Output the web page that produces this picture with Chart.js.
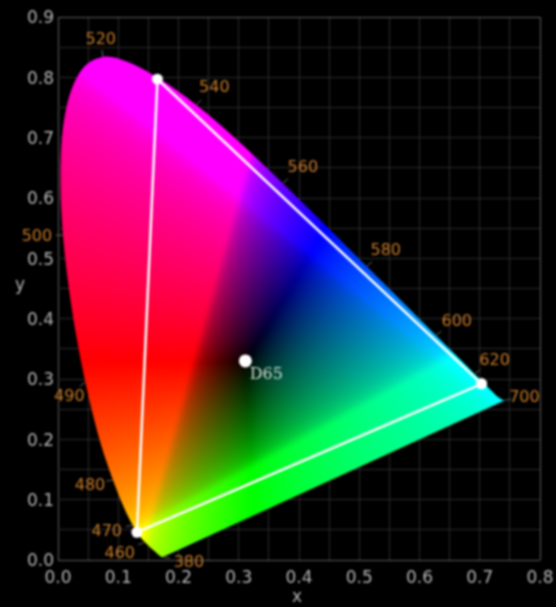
<!DOCTYPE html>
<html>
<head>
<meta charset="utf-8">
<title>CIE xy chromaticity</title>
<script src="https://cdn.jsdelivr.net/npm/chart.js@4"></script>
<style>
  html, body { margin: 0; background: #000; }
  canvas { display: block; filter: blur(1px); }
</style>
</head>
<body>
<canvas id="chart" width="556" height="607"></canvas>
<script>
// spectral locus, wavelength in nm
const wavelengths = [380, 400, 420, 440, 450, 455, 460, 465, 470, 475, 480, 485, 490, 495, 500, 505, 510, 515, 520, 525, 530, 535, 540, 545, 550, 555, 560, 565, 570, 575, 580, 585, 590, 595, 600, 605, 610, 615, 620, 625, 630, 635, 640, 650, 660, 680, 700];
const locusX = [.1741, .1733, .1714, .1644, .1566, .1510, .1440, .1355, .1241, .1096, .0913, .0687, .0454, .0235, .0082, .0039, .0139, .0389, .0743, .1142, .1547, .1929, .2296, .2658, .3016, .3373, .3731, .4087, .4441, .4788, .5125, .5448, .5752, .6029, .6270, .6482, .6658, .6801, .6915, .7006, .7079, .7140, .7190, .7260, .7320, .7370, .7410];
const locusY = [.0050, .0048, .0051, .0109, .0177, .0227, .0297, .0399, .0578, .0868, .1327, .2007, .2950, .4127, .5384, .6548, .7502, .8120, .8338, .8262, .8059, .7816, .7543, .7243, .6923, .6589, .6245, .5896, .5547, .5202, .4866, .4544, .4242, .3965, .3725, .3514, .3340, .3197, .3083, .2993, .2920, .2859, .2809, .2740, .2690, .2660, .2645];

// wavelengths that carry a label
const labelledWavelengths = [380, 460, 470, 480, 490, 500, 520, 540, 560, 580, 600, 620, 700];

// gamut triangle and white point
const gamutX = [.703, .165, .131, .703];
const gamutY = [.292, .797, .046, .292];
const whiteX = [.311];
const whiteY = [.330];
const whiteName = "D65";

const toPoints = (xs, ys) => xs.map((x, i) => ({x: x, y: ys[i]}));

// label placement in pixels, relative to the locus point
const labelOffsets = {
    380: [26, 4], 460: [-25, 10], 470: [-26, 5], 480: [-23, 4], 490: [-16, 13], 500: [-26, 0],
    520: [-2, -19], 540: [18, -19], 560: [20, -17], 580: [19, -17], 600: [21, -15], 620: [20, -15], 700: [20, -4],
};

// xy -> inverted, sRGB clipped colour
const colorAt = (x, y) => {
    const z = 1 - x - y;
    let r = 3.2406 * x - 1.5372 * y - 0.4986 * z;
    let g = -0.9689 * x + 1.8758 * y + 0.0415 * z;
    let b = 0.0557 * x - 0.2040 * y + 1.0570 * z;
    r = Math.max(r, 0);
    g = Math.max(g, 0);
    b = Math.max(b, 0);
    const max = Math.max(r, g, b) || 1;
    return [r, g, b].map(c => {
        c = c / max;
        const v = c <= 0.0031308 ? 12.92 * c : 1.055 * Math.pow(c, 1 / 2.4) - 0.055;
        return Math.round(255 * (1 - v));
    });
};

// smooth curve through the locus, the closing purple line stays straight
const tracePath = (ctx, scales, xs, ys) => {
    const pts = xs.map((x, i) => [scales.x.getPixelForValue(x), scales.y.getPixelForValue(ys[i])]);
    ctx.beginPath();
    ctx.moveTo(pts[0][0], pts[0][1]);
    for (let i = 0; i < pts.length - 1; i++) {
        const p0 = pts[Math.max(i - 1, 0)];
        const p1 = pts[i];
        const p2 = pts[i + 1];
        const p3 = pts[Math.min(i + 2, pts.length - 1)];
        ctx.bezierCurveTo(
            p1[0] + (p2[0] - p0[0]) / 6, p1[1] + (p2[1] - p0[1]) / 6,
            p2[0] - (p3[0] - p1[0]) / 6, p2[1] - (p3[1] - p1[1]) / 6,
            p2[0], p2[1]
        );
    }
    ctx.closePath();
};

const locusFill = {
    id: "locusFill",
    beforeDatasetsDraw(chart) {
        const {ctx, chartArea, scales} = chart;
        const w = Math.ceil(chartArea.width), h = Math.ceil(chartArea.height);
        const left = Math.floor(chartArea.left), top = Math.floor(chartArea.top);
        const off = document.createElement("canvas");
        off.width = w;
        off.height = h;
        const octx = off.getContext("2d");
        const img = octx.createImageData(w, h);
        for (let j = 0; j < h; j++) {
            const y = scales.y.getValueForPixel(top + j + 0.5);
            for (let i = 0; i < w; i++) {
                const x = scales.x.getValueForPixel(left + i + 0.5);
                const c = colorAt(x, y);
                const k = (j * w + i) * 4;
                img.data[k] = c[0];
                img.data[k + 1] = c[1];
                img.data[k + 2] = c[2];
                img.data[k + 3] = 255;
            }
        }
        octx.putImageData(img, 0, 0);
        ctx.save();
        tracePath(ctx, scales, locusX, locusY);
        ctx.clip();
        // the colour kinks are soft in the reference
        ctx.filter = "blur(2.5px)";
        ctx.drawImage(off, left, top);
        ctx.restore();
    },
};

const annotations = {
    id: "annotations",
    afterDatasetsDraw(chart) {
        const {ctx, scales} = chart;
        ctx.save();
        ctx.textAlign = "center";
        ctx.textBaseline = "middle";

        labelledWavelengths.forEach(nm => {
            const i = wavelengths.indexOf(nm);
            const px = scales.x.getPixelForValue(locusX[i]);
            const py = scales.y.getPixelForValue(locusY[i]);
            const [dx, dy] = labelOffsets[nm];
            const len = Math.hypot(dx, dy);
            ctx.strokeStyle = "#666";
            ctx.lineWidth = 1;
            ctx.beginPath();
            ctx.moveTo(px, py);
            ctx.lineTo(px + dx / len * 7, py + dy / len * 7);
            ctx.stroke();
            ctx.fillStyle = "#c77a28";
            ctx.font = '16px "DejaVu Sans"';
            ctx.fillText(String(nm), px + dx, py + dy + 1.5);
        });

        ctx.fillStyle = "#d2dcd2";
        ctx.font = '16px "DejaVu Serif"';
        ctx.fillText(whiteName, scales.x.getPixelForValue(whiteX[0]) + 21, scales.y.getPixelForValue(whiteY[0]) + 14);

        // axis names stay upright
        ctx.fillStyle = "#b4b4b4";
        ctx.font = '17px "DejaVu Sans"';
        ctx.fillText("x", 297, 598);
        ctx.fillText("y", 20, 286);
        ctx.restore();
    },
};

// y tick labels sit a little below their grid line
const nudgeLabels = {
    id: "nudgeLabels",
    afterInit(chart) {
        chart.$nudged = false;
    },
    afterLayout(chart) {
        if (chart.$nudged) return;
        chart.$nudged = true;
        const scale = chart.scales.y;
        const drawLabels = scale.drawLabels;
        scale.drawLabels = function (area) {
            this.ctx.save();
            this.ctx.translate(0, 2);
            drawLabels.call(this, area);
            this.ctx.restore();
        };
    },
};

const tickLabel = value => Math.round(value * 100) % 10 === 0 ? value.toFixed(1) : "";

const axis = (max, afterFit) => ({
    type: "linear",
    min: 0,
    max: max,
    afterFit: afterFit,
    border: {display: false},
    grid: {
        drawTicks: false,
        color: ctx => (ctx.tick.value < 0.001 || ctx.tick.value > max - 0.001) ? "#5e5e5e" : "#2b2b2b",
    },
    ticks: {
        stepSize: 0.05,
        autoSkip: false,
        maxRotation: 0,
        color: "#b4b4b4",
        font: {family: "DejaVu Sans", size: 17},
        callback: tickLabel,
    },
});

const xAxis = axis(0.8, scale => {
    scale.height = 47;
    scale.paddingLeft = 0;
    scale.paddingRight = 0;
});
xAxis.ticks.padding = 8;
const yAxis = axis(0.9, scale => {
    scale.width = 58;
    scale.paddingTop = 0;
    scale.paddingBottom = 0;
});
yAxis.ticks.padding = 4;

new Chart(document.getElementById("chart"), {
    type: "scatter",
    data: {
        datasets: [
            {
                label: "locus",
                data: toPoints(locusX, locusY),
                showLine: false,
                pointRadius: 0,
            },
            {
                label: "gamut",
                data: toPoints(gamutX, gamutY),
                showLine: true,
                borderColor: "#fff",
                borderWidth: 2.5,
                pointRadius: 5.5,
                pointBackgroundColor: "#fff",
                pointBorderWidth: 0,
            },
            {
                label: whiteName,
                data: toPoints(whiteX, whiteY),
                pointRadius: 6.5,
                pointBackgroundColor: "#fff",
                pointBorderWidth: 0,
            },
        ],
    },
    options: {
        responsive: false,
        animation: false,
        layout: {padding: {top: 17, right: 16, left: 0, bottom: 0}},
        plugins: {legend: {display: false}, tooltip: {enabled: false}},
        scales: {x: xAxis, y: yAxis},
    },
    plugins: [locusFill, annotations, nudgeLabels],
});
</script>
</body>
</html>
